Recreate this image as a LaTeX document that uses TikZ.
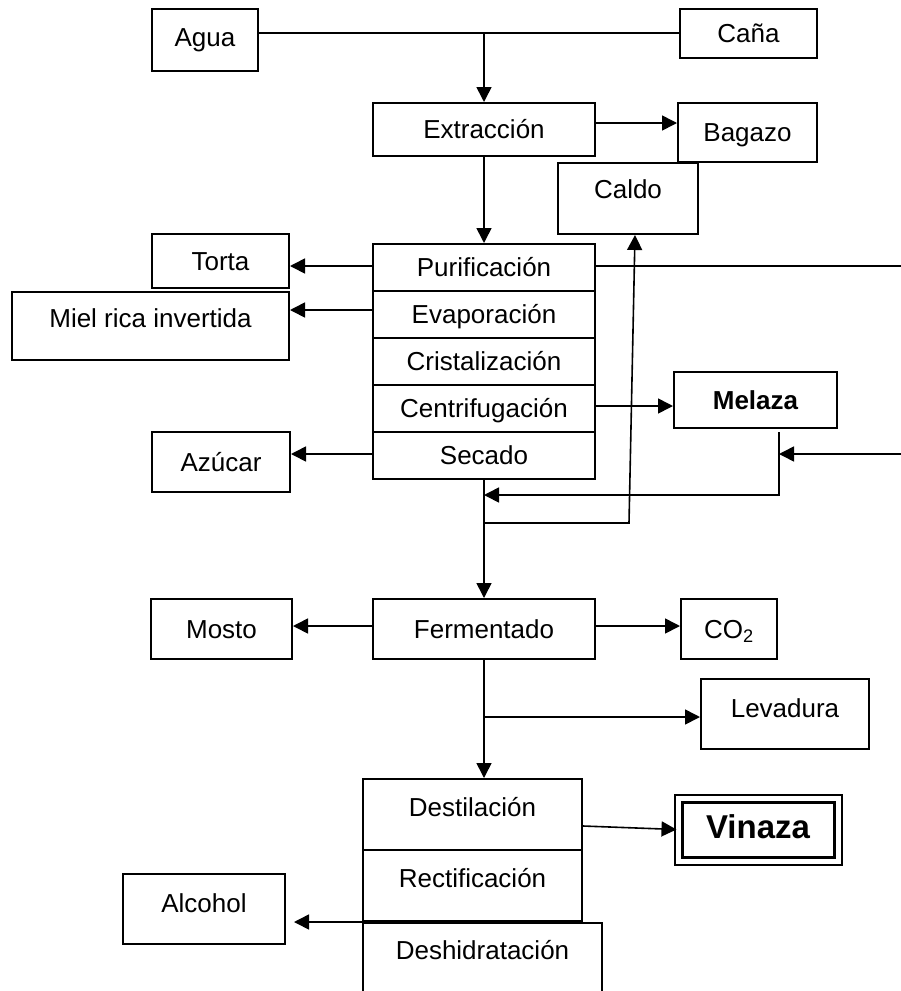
\documentclass[tikz,border=0pt]{standalone}
\usepackage{fontspec}
\setmainfont{Liberation Sans}
\usetikzlibrary{arrows.meta}

\begin{document}
\begin{tikzpicture}[x=1pt,y=-1pt,
    box/.style={draw,line width=2pt,inner sep=0pt,text height=18.5pt,text depth=0pt},
    sz/.style 2 args={minimum width=#1pt,minimum height=#2pt},
    arr/.style={line width=1.6pt,-{Triangle[length=15pt,width=15pt]}},
    line/.style={line width=1.6pt},
    font=\fontsize{26}{31}\selectfont]
    \useasboundingbox (0,0) rectangle (900,991);
    % entradas y extraccion
    \node[box,sz={106}{62},text depth=5pt] (agua) at (205,40) {Agua};
    \node[box,sz={137}{49}] (cana) at (748.5,33.5) {Caña};
    \node[box,sz={222}{53}] (extr) at (484,129.5) {Extracción};
    \node[box,sz={139}{59}] (bagazo) at (747.5,132.5) {Bagazo};
    \node[box,sz={140}{71},text depth=19pt] (caldo) at (628,198.5) {Caldo};
    % columna central
    \node[box,sz={222}{47}] (purif) at (484,267.5) {Purificación};
    \node[box,sz={222}{47}] (evap) at (484,314.5) {Evaporación};
    \node[box,sz={222}{47}] (crist) at (484,361.5) {Cristalización};
    \node[box,sz={222}{47}] (centr) at (484,408.5) {Centrifugación};
    \node[box,sz={222}{47}] (secado) at (484,455.5) {Secado};
    \node[box,sz={137}{54}] (torta) at (220.5,261) {Torta};
    \node[box,sz={277}{68},text depth=16pt] (miel) at (150.5,326) {Miel rica invertida};
    \node[box,sz={138}{60}] (azucar) at (221,462) {Azúcar};
    \node[box,sz={163}{56},font=\fontsize{26}{31}\selectfont\bfseries] (melaza) at (755.5,400) {Melaza};
    % fermentacion
    \node[box,sz={222}{60}] (ferm) at (484,629) {Fermentado};
    \node[box,sz={141}{60}] (mosto) at (221.5,629) {Mosto};
    \node[box,sz={96}{60}] (co2) at (729,629) {CO\textsubscript{2}};
    \node[box,sz={168}{70},text depth=12pt] (lev) at (785,714) {Levadura};
    % destilacion
    \node[box,sz={219}{71},text depth=15pt] (dest) at (472.5,814.5) {Destilación};
    \node[box,sz={219}{71},text depth=15pt] (rect) at (472.5,885.5) {Rectificación};
    \node[box,sz={239}{72},text depth=17pt] (desh) at (482.5,959) {Deshidratación};
    \node[box,sz={162}{70},text depth=12pt] (alcohol) at (204,909) {Alcohol};
    \node[box,sz={152}{55},line width=3pt,font=\fontsize{33}{39}\selectfont\bfseries] (vinaza) at (758,829.5) {Vinaza};
    \draw[line width=2pt] ([shift={(-6,6)}]vinaza.south west) rectangle ([shift={(6,-6)}]vinaza.north east);
    % conexiones
    \coordinate (j1) at (484,33);
    \coordinate (r1) at (905,266);
    \coordinate (r2) at (905,454);
    \draw[line] (agua.east |- j1) -- (cana.west |- j1);
    \draw[arr] (j1) -- (extr.north);
    \draw[arr] (extr.east |- 0,123) -- (bagazo.west |- 0,123);
    \draw[arr] (extr.south) -- (purif.north);
    \draw[arr] (purif.west |- 0,266) -- (torta.east |- 0,266);
    \draw[arr] (evap.west |- 0,310) -- (miel.east |- 0,310);
    \draw[arr] (secado.west |- 0,454) -- (azucar.east |- 0,454);
    \draw[line] (purif.east |- r1) -- (r1);
    \draw[arr] (centr.east |- 0,406) -- (melaza.west |- 0,406);
    \draw[arr] (r2) -- (779,454);
    \draw[arr] (779,432) -- (779,495) -- (secado.south |- 0,495);
    \draw[arr] (secado.south |- 0,523) -- (629,523) -- ([xshift=7pt]caldo.south);
    \draw[arr] (secado.south) -- (ferm.north);
    \draw[arr] (ferm.west |- 0,626) -- (mosto.east |- 0,626);
    \draw[arr] (ferm.east |- 0,626) -- (co2.west |- 0,626);
    \draw[arr] (ferm.south) -- (ferm.south |- dest.north);
    \draw[arr] (ferm.south |- 0,717) -- (lev.west |- 0,717);
    \draw[arr] (dest.east |- 0,826) -- ([xshift=-4pt]vinaza.west);
    \draw[arr] (rect.south west) -- ([xshift=8pt]alcohol.east |- rect.south west);
\end{tikzpicture}
\end{document}
